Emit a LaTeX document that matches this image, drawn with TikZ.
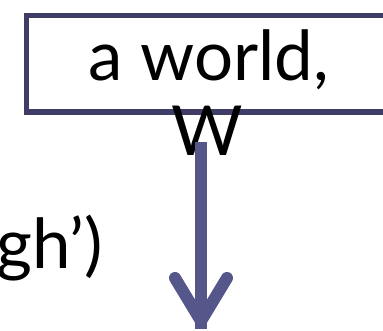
\documentclass[tikz,border=0pt]{standalone}
\usepackage{fontspec}
\setmainfont{Lato}
\definecolor{boxborder}{HTML}{3F3D66}
\definecolor{arrowcol}{HTML}{55568A}
\begin{document}
\begin{tikzpicture}[x=1pt,y=-1pt,
  bigtext/.style={font=\fontsize{69}{74}\selectfont, inner sep=0pt, text=black},
  frame/.style={draw=boxborder, line width=5.5pt, fill=none},
  shaft/.style={draw=arrowcol, line width=12pt},
  barb/.style={draw=arrowcol, line width=12pt, line cap=round, line join=round}]
\useasboundingbox (0,0) rectangle (383,330);
\begin{scope}
\clip (0,0) rectangle (383,330);
\node[frame, minimum width=380pt, minimum height=96.5pt, anchor=north west, inner sep=0pt] (box) at (23.8,12.5) {};
\end{scope}
\node[bigtext, anchor=base] (t1) at (208.5,80) {a world,};
\node[bigtext, anchor=base] (t2) at (207,155) {W};
\node[bigtext, anchor=base east] (t3) at (103,268) {gh’)};
\coordinate (s) at (201,142);
\coordinate (tip) at (201,321);
\draw[shaft] (s) -- ([yshift=-8pt]tip);
\draw[barb] ([shift={(-26,-43)}]tip) -- (tip) -- ([shift={(26,-43)}]tip);
\end{tikzpicture}
\end{document}
